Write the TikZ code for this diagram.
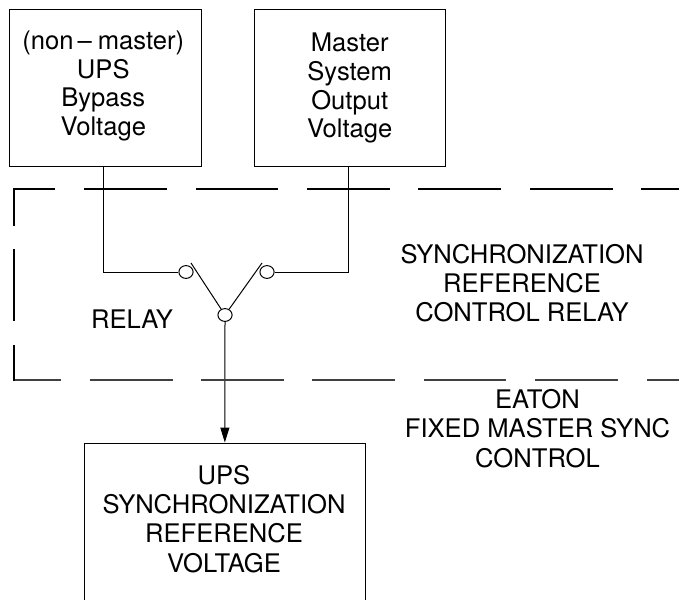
\documentclass[tikz,border=0pt]{standalone}
\usepackage{fontspec}
\setmainfont{TeX Gyre Heros}
\usetikzlibrary{arrows.meta,shapes.geometric}
\tikzset{
  box/.style={draw=black,line width=1pt,rectangle,inner sep=0pt},
  txt/.style={inner sep=0pt,align=center,font=\fontsize{25.6}{29.3}\selectfont},
  txtb/.style={inner sep=0pt,align=center,font=\fontsize{25.6}{28.7}\selectfont},
  wire/.style={draw=black,line width=1pt},
  contactc/.style={draw=black,line width=1pt,fill=white,ellipse,minimum width=14.2pt,minimum height=12.8pt,inner sep=0pt},
  dashtop/.style={draw=black,line width=2pt},
  dashbot/.style={draw=black!75,line width=1.5pt},
  dashleft/.style={draw=black,line width=2pt}
}
\begin{document}
\begin{tikzpicture}[x=1pt,y=-1pt]
\useasboundingbox (0,0) rectangle (679,599);
% boxes
\node[box,minimum width=192.2pt,minimum height=156.5pt] (lbox) at (105.6,88) {};
\node[box,minimum width=191.7pt,minimum height=156.5pt] (rbox) at (349.85,88) {};
\node[box,minimum width=281.7pt,minimum height=180pt] (bbox) at (224.85,533) {};
\node[txtb] (ltxt) at (103.3,86) {(non\kern4pt\textendash\kern6pt master)\\UPS\\Bypass\\Voltage};
\node[txtb] (rtxt) at (349.7,88.4) {Master\\System\\Output\\Voltage};
\node[txt] (btxt) at (224,519) {UPS\\SYNCHRONIZATION\\REFERENCE\\VOLTAGE};
% contacts and wires
\coordinate (ltap) at (103.5,166);
\coordinate (rtap) at (348,166);
\coordinate (bladel) at (191,263);
\coordinate (blader) at (262,263);
\node[contactc] (cc) at (225,315) {};
\node[contactc] (cl) at (186,272) {};
\node[contactc] (cr) at (267,272) {};
\draw[wire] (ltap) |- (cl.west);
\draw[wire] (rtap) |- (cr.east);
\draw[wire] (bladel) -- (cc);
\draw[wire] (blader) -- (cc);
\draw[wire,-{Triangle[length=15pt,width=9pt]}] (cc.south) -- (bbox.north);
% dashed enclosure
\foreach \a/\b in {84/167,196/278,307/390,418/501,530/613,641/679}
  \draw[dashtop] (\a,188.5) -- (\b,188.5);
\draw[dashtop] (14,226) -- (14,188.5) -- (55,188.5);
\draw[dashleft] (14,249) -- (14,321);
\foreach \a/\b in {90/173,201/284,312/395,424/506,535/618,647/679}
  \draw[dashbot] (\a,380) -- (\b,380);
\draw[dashbot] (14.5,380) -- (61,380);
\draw[dashleft] (14,345) -- (14,380.5);
% labels
\node[txt] (relay) at (132,318.7) {RELAY};
\node[txt] (sync) at (522,283.2) {SYNCHRONIZATION\\REFERENCE\\CONTROL RELAY};
\node[txt] (eaton) at (537.5,428.6) {EATON\\FIXED MASTER SYNC\\CONTROL};
\end{tikzpicture}
\end{document}
